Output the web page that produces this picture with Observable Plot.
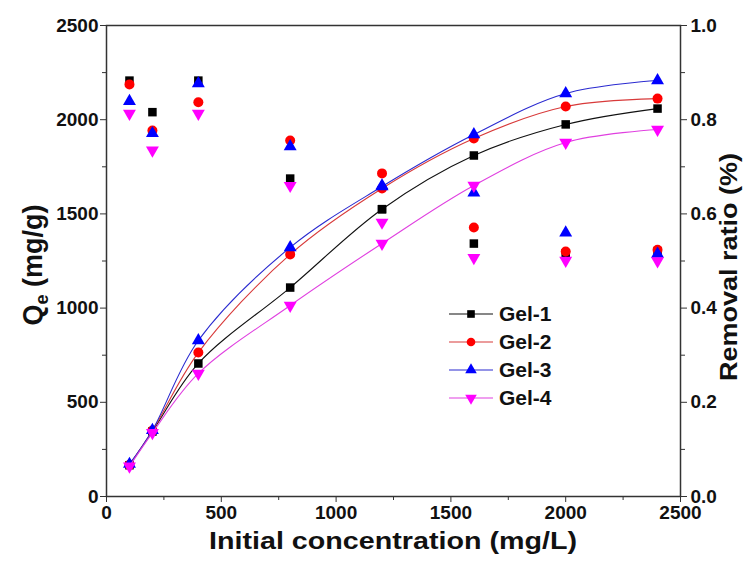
<!DOCTYPE html>
<html><head><meta charset="utf-8">
<script src="https://cdn.jsdelivr.net/npm/d3@7"></script>
<script src="https://cdn.jsdelivr.net/npm/@observablehq/plot@0.6"></script>
<style>
body{margin:0;background:#fff;}
#chart{position:relative;width:749px;height:564px;font-family:"Liberation Sans",Arial,sans-serif;}
#legend{position:absolute;left:448px;top:300px;font-weight:bold;font-size:21px;color:#111;}
.row{display:flex;align-items:center;height:28px;}
.row svg{margin-right:5px;}
</style></head><body><div id="chart"><div id="legend"></div></div>
<script>
// ---- data ----
const concentrations = [100, 200, 400, 800, 1200, 1600, 2000, 2400];
const seriesNames = ["Gel-1", "Gel-2", "Gel-3", "Gel-4"];
const qeGel1 = [166, 345, 706, 1109, 1525, 1810, 1975, 2059];
const qeGel2 = [168, 350, 764, 1285, 1635, 1900, 2070, 2112];
const qeGel3 = [172, 352, 828, 1322, 1645, 1921, 2139, 2208];
const qeGel4 = [160, 338, 653, 1014, 1343, 1651, 1879, 1948];
const ratioGel1 = [0.883, 0.816, 0.883, 0.675, 0.610, 0.537, 0.516, 0.520];
const ratioGel2 = [0.875, 0.777, 0.837, 0.756, 0.686, 0.571, 0.520, 0.524];
const ratioGel3 = [0.839, 0.771, 0.877, 0.743, 0.660, 0.645, 0.560, 0.515];
const ratioGel4 = [0.813, 0.735, 0.813, 0.660, 0.582, 0.507, 0.501, 0.500];
const xTicks = [0, 500, 1000, 1500, 2000, 2500];
const qeTicks = [0, 500, 1000, 1500, 2000, 2500];
const ratioTicks = [0.0, 0.2, 0.4, 0.6, 0.8, 1.0];

// ---- styles ----
const triangleDown = {
  draw(context, size) {
    const y = -Math.sqrt(size / (Math.sqrt(3) * 3));
    context.moveTo(0, -y * 2);
    context.lineTo(-Math.sqrt(3) * y, y);
    context.lineTo(Math.sqrt(3) * y, y);
    context.closePath();
  }
};
const styles = [
  {line: "#111111", fill: "#000000", symbol: "square", r: 4.8},
  {line: "#d83a3a", fill: "#ff0000", symbol: "circle", r: 5},
  {line: "#2a2ad0", fill: "#0000ff", symbol: "triangle", r: 4.8},
  {line: "#e040e0", fill: "#ff00ff", symbol: triangleDown, r: 4.8}
];
const qeAll = [qeGel1, qeGel2, qeGel3, qeGel4];
const ratioAll = [ratioGel1, ratioGel2, ratioGel3, ratioGel4];
const Q_MAX = 2500;

const marks = [];
seriesNames.forEach((name, i) => {
  const qe = concentrations.map((c, j) => ({c, v: qeAll[i][j]}));
  const rr = concentrations.map((c, j) => ({c, v: ratioAll[i][j] * Q_MAX}));
  const s = styles[i];
  marks.push(Plot.line(qe, {x: "c", y: "v", stroke: s.line, strokeWidth: 1.1, curve: "catmull-rom"}));
  marks.push(Plot.dot(rr, {x: "c", y: "v", symbol: () => s.symbol, fill: s.fill, stroke: "none", r: s.r}));
  marks.push(Plot.dot(qe, {x: "c", y: "v", symbol: () => s.symbol, fill: s.fill, stroke: "none", r: s.r}));
});

const minorX = d3.range(250, 2500, 500);
const minorY = d3.range(250, 2500, 500);
const fmt = d => String(d);

const plot = Plot.plot({
  width: 749, height: 564,
  marginLeft: 106, marginRight: 69, marginTop: 25, marginBottom: 68,
  style: {fontFamily: '"Liberation Sans", Arial, sans-serif', fontSize: "19px", fontWeight: "bold", color: "#111", background: "#fff"},
  x: {domain: [0, 2500]},
  y: {domain: [0, Q_MAX]},
  symbol: {type: "identity"},
  marks: [
    Plot.axisX({ticks: xTicks, tickFormat: fmt, tickSize: 6, tickPadding: 3, label: null, stroke: "#333"}),
    Plot.axisX({ticks: minorX, tickSize: 4, tickFormat: () => "", label: null, stroke: "#333"}),
    Plot.axisY({ticks: qeTicks, tickFormat: fmt, tickSize: 6, tickPadding: 2, label: null, stroke: "#333"}),
    Plot.axisY({ticks: minorY, tickSize: 4, tickFormat: () => "", label: null, stroke: "#333"}),
    Plot.axisY({anchor: "right", ticks: ratioTicks.map(t => t * Q_MAX), tickFormat: d => (d / Q_MAX).toFixed(1), tickSize: 6, tickPadding: 4, label: null, stroke: "#333"}),
    Plot.axisY({anchor: "right", ticks: minorY, tickSize: 4, tickFormat: () => "", label: null, stroke: "#333"}),
    Plot.frame({stroke: "#333", strokeWidth: 1.5}),
    ...marks
  ]
});
document.getElementById("chart").prepend(plot);

// axis titles
const svg = d3.select(plot);
svg.append("text").attr("x", 393).attr("y", 549).attr("text-anchor", "middle")
  .attr("textLength", 368).attr("lengthAdjust", "spacingAndGlyphs")
  .style("font-size", "24px").style("font-weight", "bold").attr("fill", "#111")
  .text("Initial concentration (mg/L)");
const yl = svg.append("text").attr("transform", "translate(42,265) rotate(-90)").attr("text-anchor", "middle")
  .style("font-size", "27px").style("font-weight", "bold").attr("fill", "#111");
yl.append("tspan").text("Q");
yl.append("tspan").attr("dy", 6).style("font-size", "18px").text("e");
yl.append("tspan").attr("dy", -6).text(" (mg/g)");
svg.append("text").attr("transform", "translate(737,267) rotate(-90)").attr("text-anchor", "middle")
  .attr("textLength", 228).attr("lengthAdjust", "spacingAndGlyphs")
  .style("font-size", "24px").style("font-weight", "bold").attr("fill", "#111")
  .text("Removal ratio (%)");

// legend
const legend = d3.select("#legend");
seriesNames.forEach((name, i) => {
  const s = styles[i];
  const row = legend.append("div").attr("class", "row");
  const ls = row.append("svg").attr("width", 46).attr("height", 16);
  ls.append("line").attr("x1", 1).attr("x2", 45).attr("y1", 8).attr("y2", 8).attr("stroke", s.line).attr("stroke-width", 1.2);
  const sym = typeof s.symbol === "string" ? {square: d3.symbolSquare, circle: d3.symbolCircle, triangle: d3.symbolTriangle}[s.symbol] : s.symbol;
  ls.append("path").attr("transform", "translate(23,8)").attr("d", d3.symbol(sym, Math.PI * 4.3 * 4.3)()).attr("fill", s.fill);
  row.append("span").text(name);
});
</script>
</body></html>
